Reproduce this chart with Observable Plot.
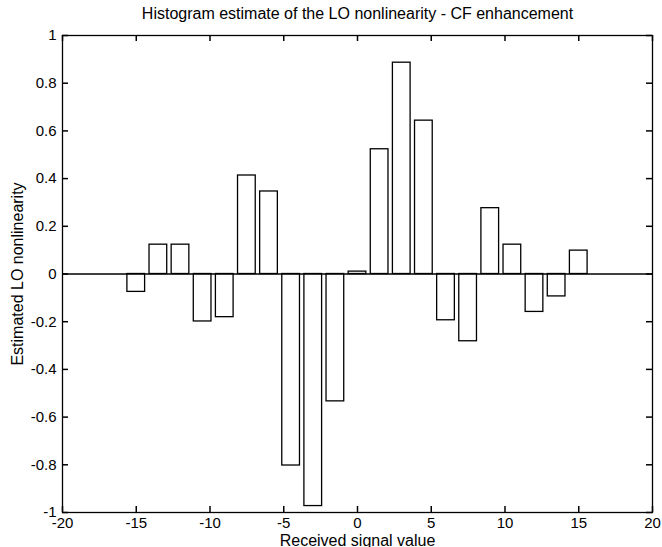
<!DOCTYPE html>
<html><head><meta charset="utf-8">
<script src="https://cdn.jsdelivr.net/npm/d3@7"></script>
<script src="https://cdn.jsdelivr.net/npm/@observablehq/plot@0.6"></script>
<style>
body{margin:0;background:#fff;}
#chart svg{font-family:"Liberation Sans",Arial,Helvetica,sans-serif;}
</style>
</head><body><div id="chart"></div>
<script>
const chartTitle = "Histogram estimate of the LO nonlinearity - CF enhancement";
const xLabel = "Received signal value";
const yLabel = "Estimated LO nonlinearity";
const binCenters = [-15, -13.5, -12, -10.5, -9, -7.5, -6, -4.5, -3, -1.5, 0, 1.5, 3, 4.5, 6, 7.5, 9, 10.5, 12, 13.5, 15];
const loValues = [-0.075, 0.123, 0.123, -0.199, -0.181, 0.413, 0.346, -0.803, -0.973, -0.534, 0.01, 0.523, 0.886, 0.643, -0.194, -0.282, 0.276, 0.123, -0.159, -0.094, 0.098];
const xTicks = [-20, -15, -10, -5, 0, 5, 10, 15, 20];
const xTickLabels = ["-20", "-15", "-10", "-5", "0", "5", "10", "15", "20"];
const yTicks = [-1, -0.8, -0.6, -0.4, -0.2, 0, 0.2, 0.4, 0.6, 0.8, 1];
const yTickLabels = ["-1", "-0.8", "-0.6", "-0.4", "-0.2", "0", "0.2", "0.4", "0.6", "0.8", "1"];
const barWidth = 1.2;

const bars = binCenters.map((c, i) => ({c, v: loValues[i]}));
const fmtX = d => xTickLabels[xTicks.indexOf(d)];
const fmtY = d => yTickLabels[yTicks.findIndex(t => Math.abs(t - d) < 1e-9)];
const xMin = xTicks[0], xMax = xTicks[xTicks.length - 1];
const yMin = yTicks[0], yMax = yTicks[yTicks.length - 1];

const W = 662, H = 547, mL = 62, mR = 10, mT = 35, mB = 35;
const tk = 6;
const frameW = W - mL - mR, frameH = H - mT - mB;
const tickStyle = {stroke: "black", strokeWidth: 1.5};

const plot = Plot.plot({
  width: W,
  height: H,
  marginLeft: mL,
  marginRight: mR,
  marginTop: mT,
  marginBottom: mB,
  style: {background: "#fff", color: "#000", fontSize: "15px"},
  x: {domain: [xMin, xMax]},
  y: {domain: [yMin, yMax]},
  marks: [
    Plot.rect(bars, {x1: d => d.c - barWidth / 2, x2: d => d.c + barWidth / 2, y1: 0, y2: "v", fill: "white", stroke: "black", strokeWidth: 1.3}),
    Plot.ruleY([0], {stroke: "black", strokeWidth: 1.3}),
    Plot.frame({stroke: "black", strokeWidth: 1.3}),
    Plot.ruleX(xTicks, {x: d => d, insetTop: frameH - tk, ...tickStyle}),
    Plot.ruleX(xTicks, {x: d => d, insetBottom: frameH - tk, ...tickStyle}),
    Plot.ruleY(yTicks, {y: d => d, insetRight: frameW - tk, ...tickStyle}),
    Plot.ruleY(yTicks, {y: d => d, insetLeft: frameW - tk, ...tickStyle}),
    Plot.axisX({anchor: "bottom", ticks: xTicks, tickSize: 0, tickPadding: 5, tickFormat: fmtX, fontSize: 15, label: null}),
    Plot.axisX({anchor: "bottom", ticks: [], tickSize: 0, label: xLabel, labelAnchor: "center", labelArrow: "none", labelOffset: 33, fontSize: 16}),
    Plot.axisY({anchor: "left", ticks: yTicks, tickSize: 0, tickPadding: 6, tickFormat: fmtY, fontSize: 15, label: null}),
    Plot.axisY({anchor: "left", ticks: [], tickSize: 0, label: yLabel, labelAnchor: "center", labelArrow: "none", labelOffset: 51, fontSize: 16}),
    Plot.text([chartTitle], {frameAnchor: "top", dy: -22, fontSize: 16, text: d => d, lineAnchor: "middle"})
  ]
});
document.getElementById("chart").appendChild(plot);
</script>
</body></html>
